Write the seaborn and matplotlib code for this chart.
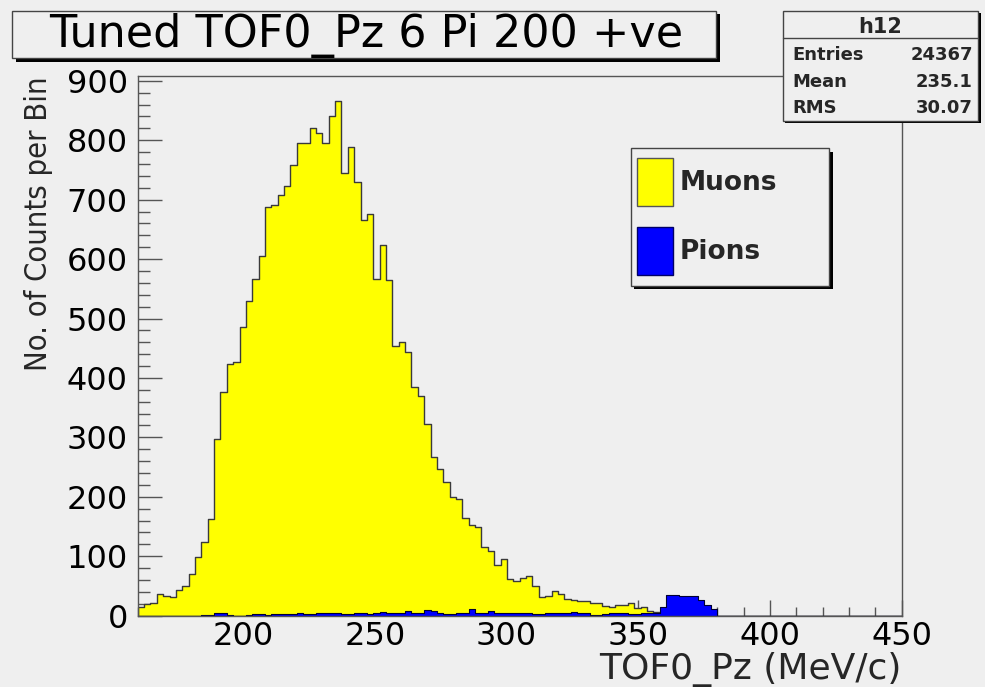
import os
import numpy as np
import pandas as pd
import matplotlib
matplotlib.use("Agg")
import matplotlib.pyplot as plt
import seaborn as sns
from matplotlib import font_manager as fm
from matplotlib.patches import Rectangle
from matplotlib.lines import Line2D
from matplotlib.ticker import MultipleLocator

# ---------------- data ----------------
x_min, x_max, n_bins = 160.0, 450.0, 120

muons = [15, 19, 22, 37, 33, 31, 44, 50, 70, 99,
         124, 163, 297, 377, 423, 427, 485, 529, 566, 606,
         688, 691, 708, 723, 758, 796, 796, 821, 812, 796,
         841, 866, 745, 789, 729, 666, 676, 566, 623, 564,
         453, 460, 444, 385, 369, 322, 267, 246, 225, 199,
         196, 165, 152, 150, 115, 109, 86, 96, 61, 58,
         63, 66, 50, 32, 33, 42, 37, 28, 26, 24,
         25, 22, 21, 16, 15, 18, 18, 22, 13, 14,
         8, 6] + [0] * 38

pions = [0, 0, 0, 0, 0, 0, 0, 0, 0, 0,
         1, 1, 4, 4, 2, 0, 0, 2, 3, 3,
         2, 3, 3, 3, 3, 4, 3, 3, 4, 4,
         5, 5, 3, 3, 4, 4, 3, 5, 7, 5,
         4, 4, 8, 4, 4, 10, 8, 5, 3, 3,
         5, 5, 12, 4, 4, 8, 5, 5, 4, 4,
         4, 4, 3, 3, 5, 5, 4, 4, 7, 4,
         4, 2, 2, 3, 4, 4, 4, 3, 3, 5,
         5, 5, 14, 34, 35, 33, 33, 33, 26, 18,
         11] + [0] * 29

series_labels = ["Muons", "Pions"]
title_text = "Tuned TOF0_Pz 6 Pi 200 +ve"
x_label = "TOF0_Pz (MeV/c)"
y_label = "No. of Counts per Bin"
stats_name = "h12"
stats_rows = [("Entries", "24367"), ("Mean", "235.1"), ("RMS", "30.07")]
y_max = 908

# ---------------- style ----------------
sns.set_style("ticks")
plt.rcParams["font.family"] = ["DejaVu Sans"]
BG = "#efefef"
YELLOW = "#ffff00"
BLUE = "#0000ff"
FRAME = "#555555"


def pick_narrow_font():
    prefs = []
    for f in fm.fontManager.ttflist:
        nm = f.name.lower()
        fn = os.path.basename(f.fname).lower()
        if any(b in fn for b in ("bold", "italic", "oblique", "mono")):
            continue
        if "serif" in nm and "sans" not in nm:
            continue
        if f.style != "normal":
            continue
        narrow = ("narrow" in nm or "narrow" in fn or "condensed" in nm or "condensed" in fn
                  or str(f.stretch).lower() in ("condensed", "semi-condensed", "extra-condensed"))
        if not narrow:
            continue
        rank = 0 if "liberation" in nm else (1 if "arial" in nm else 2)
        prefs.append((rank, f.fname))
    if prefs:
        prefs.sort()
        return fm.FontProperties(fname=prefs[0][1])
    return fm.FontProperties(family=["Liberation Sans", "DejaVu Sans"])


W, H = 985, 687
fig = plt.figure(figsize=(W / 100, H / 100), dpi=100)
fig.patch.set_facecolor(BG)


def fx(px):
    return px / W


def fy(py):
    return 1 - py / H


ax_l, ax_r, ax_t, ax_b = 137.7, 901.7, 76.0, 615.7
ax = fig.add_axes([fx(ax_l), fy(ax_b), fx(ax_r - ax_l), (ax_b - ax_t) / H])
ax.set_facecolor(BG)

edges = np.linspace(x_min, x_max, n_bins + 1)
centers = (edges[:-1] + edges[1:]) / 2
df = pd.DataFrame({"Pz": centers, "Muons": muons, "Pions": pions})

sns.histplot(data=df, x="Pz", weights="Muons", bins=n_bins, binrange=(x_min, x_max),
             element="step", fill=True, color=YELLOW, alpha=1,
             edgecolor="#3a3a3a", linewidth=1.0, ax=ax)
sns.histplot(data=df, x="Pz", weights="Pions", bins=n_bins, binrange=(x_min, x_max),
             element="step", fill=True, color=BLUE, alpha=1,
             edgecolor="#000033", linewidth=0.8, ax=ax)

ax.set_xlim(x_min, x_max)
ax.set_ylim(0, y_max)
ax.xaxis.set_major_locator(MultipleLocator(50))
ax.xaxis.set_minor_locator(MultipleLocator(10))
ax.yaxis.set_major_locator(MultipleLocator(100))
ax.yaxis.set_minor_locator(MultipleLocator(20))
ax.tick_params(axis="x", which="major", direction="in", length=11.5, width=1,
               color=FRAME, labelsize=23, pad=4, labelcolor="black")
ax.tick_params(axis="x", which="minor", direction="in", length=6.5, width=1, color=FRAME)
ax.tick_params(axis="y", which="major", direction="in", length=17, width=1,
               color=FRAME, labelsize=23, pad=7, labelcolor="black")
ax.tick_params(axis="y", which="minor", direction="in", length=8.6, width=1, color=FRAME)
for s in ax.spines.values():
    s.set_visible(True)
    s.set_color(FRAME)
    s.set_linewidth(1.0)

ax.set_xlabel(x_label, loc="right", fontsize=26)
ax.xaxis.label.set_verticalalignment("baseline")
ax.xaxis.set_label_coords(1.0, -(679 - ax_b) / (ax_b - ax_t))

yl_font = pick_narrow_font()
yl_font.set_size(22)
ax.set_ylabel(y_label, loc="top", fontproperties=yl_font)
ax.yaxis.set_label_coords(-(ax_l - 53) / (ax_r - ax_l), 1.0)
# fit the axis-title length to the reference (~295 px along the axis)
renderer = fig.canvas.get_renderer()
ext = ax.yaxis.label.get_window_extent(renderer)
yl_font.set_size(22 * 295.0 / max(ext.height, 1))
ax.yaxis.label.set_fontproperties(yl_font)


def box(x0, y0, x1, y1, shadow=3.5):
    fig.patches.append(Rectangle((fx(x0 + shadow), fy(y1 + shadow)), fx(x1 - x0), (y1 - y0) / H,
                                 transform=fig.transFigure, facecolor="black",
                                 edgecolor="none", zorder=5))
    fig.patches.append(Rectangle((fx(x0), fy(y1)), fx(x1 - x0), (y1 - y0) / H,
                                 transform=fig.transFigure, facecolor=BG,
                                 edgecolor="#444444", linewidth=1.0, zorder=6))


# title box
box(12, 11, 716, 58)
fig.text(fx(366), fy(36), title_text, ha="center", va="center", fontsize=32,
         color="black", zorder=7)

# stats box
box(782.7, 11, 978, 120.7, shadow=2.5)
fig.lines.append(Line2D([fx(782.7), fx(978)], [fy(38), fy(38)], transform=fig.transFigure,
                        color="#444444", linewidth=1.0, zorder=7))
fig.text(fx(880), fy(33), stats_name, ha="center", va="baseline", fontsize=15,
         fontweight="bold", zorder=7)
for i, (k, v) in enumerate(stats_rows):
    yb = 60.5 + 26.3 * i
    fig.text(fx(792.7), fy(yb), k, ha="left", va="baseline", fontsize=13,
             fontweight="bold", zorder=7)
    fig.text(fx(972.7), fy(yb), v, ha="right", va="baseline", fontsize=13,
             fontweight="bold", zorder=7)

# legend box
box(630.7, 148.3, 829.3, 285.7, shadow=3.5)
sw = [(157.7, 205.7, YELLOW, "#555555", 190.0), (226.7, 274.7, BLUE, "#000066", 259.3)]
for (y0, y1, c, ec, yb), lab in zip(sw, series_labels):
    fig.patches.append(Rectangle((fx(637.3), fy(y1)), fx(673 - 637.3), (y1 - y0) / H,
                                 transform=fig.transFigure, facecolor=c, edgecolor=ec,
                                 linewidth=1.0, zorder=7))
    fig.text(fx(680), fy(yb), lab, ha="left", va="baseline", fontsize=19,
             fontweight="bold", zorder=7)

fig.savefig("out.png", dpi=100, facecolor=BG)
